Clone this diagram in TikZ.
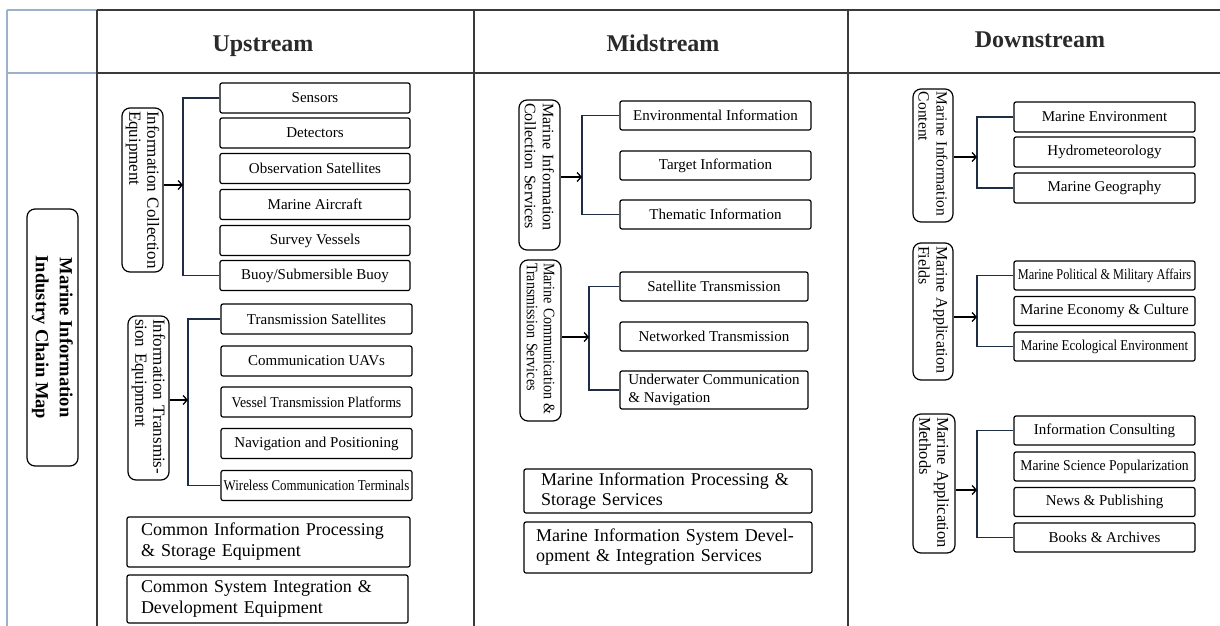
\documentclass[tikz,border=0pt]{standalone}
\usepackage{fontspec}
\setmainfont{Liberation Serif}
\usepackage{graphicx}
\usetikzlibrary{arrows.meta}
\newcommand{\condense}[2]{\scalebox{#1}[1]{#2}}
\definecolor{navy}{HTML}{1F2D44}
\definecolor{tblue}{HTML}{9DB1CB}
\definecolor{tdark}{HTML}{3A3A3A}
\definecolor{htext}{HTML}{2A2A2A}
\tikzset{
  tline/.style={line width=1.3pt, draw=tdark},
  bline/.style={line width=1.6pt, draw=tblue},
  item/.style={draw=black, line width=1.2pt, rounded corners=2pt, inner sep=0pt, align=center, font=\fontsize{15}{17}\selectfont},
  wbox/.style={draw=black, line width=1.2pt, rounded corners=2pt, inner ysep=0pt, align=left},
  grp/.style={draw=black, line width=1.2pt, rounded corners=8pt, rotate=-90, align=left, inner xsep=3pt, inner ysep=0pt},
  brk/.style={draw=navy, line width=1.6pt},
  arr/.style={draw=black, -{Straight Barb[length=4pt,width=9pt]}, line width=1.3pt},
  hdr/.style={anchor=base, text=htext, font=\fontsize{24}{28}\selectfont\bfseries}
}
\begin{document}
\begin{tikzpicture}[x=1pt,y=-1pt]
\useasboundingbox (0,0) rectangle (1220,626);
% table
\coordinate (tl) at (7,10);
\coordinate (bl) at (7,626);
\coordinate (hl) at (7,73);
\draw[bline] (tl) -- (bl);
\draw[line width=1.2pt, draw=tblue] (tl) -- (97,10);
\draw[line width=2pt, draw=tblue] (hl) -- (97,73);
\draw[tline] (97,10) -- (1220,10);
\draw[line width=2.2pt, draw=tdark] (97,73) -- (1220,73);
\draw[tline] (97,10) -- (97,626);
\draw[tline] (474,10) -- (474,626);
\draw[tline] (848,10) -- (848,626);
% headers
\node[hdr] (h1) at (263,52) {Upstream};
\node[hdr] (h2) at (663,52) {Midstream};
\node[hdr] (h3) at (1040,48) {Downstream};
% left title
\node[draw=black, line width=1.2pt, rounded corners=8pt, rotate=-90, align=center, minimum width=257pt, minimum height=51pt, inner sep=0pt, font=\fontsize{18.5}{24}\selectfont\bfseries] (title) at (52.5,337.5) {Marine Information\\Industry Chain Map};

% ---------- Upstream ----------
\node[grp, minimum width=164pt, minimum height=41pt, text width=158pt, font=\fontsize{17}{18}\selectfont] (g1) at (142.5,190) {Information Collection\\Equipment};
\node[item, minimum width=190pt, minimum height=30pt] (s1) at (315,98) {Sensors};
\node[item, minimum width=190pt, minimum height=30pt] (s2) at (315,133) {Detectors};
\node[item, minimum width=190pt, minimum height=30pt] (s3) at (315,168.5) {Observation Satellites};
\node[item, minimum width=190pt, minimum height=30pt] (s4) at (315,204.5) {Marine Aircraft};
\node[item, minimum width=190pt, minimum height=30pt] (s5) at (315,240.5) {Survey Vessels};
\node[item, minimum width=190pt, minimum height=30pt] (s6) at (315,275.5) {Buoy/Submersible Buoy};
\coordinate (a1) at (183,185);
\draw[brk] (s1.west) -- (s1.west -| a1) -- (s6.west -| a1) -- (s6.west);
\draw[arr] (g1.north |- a1) -- (a1);

\node[grp, minimum width=164pt, minimum height=41pt, text width=158pt, font=\fontsize{17}{18}\selectfont] (g2) at (148.5,398) {Information Transmis-\\sion Equipment};
\node[item, minimum width=191pt, minimum height=30pt] (t1) at (316.5,319) {Transmission Satellites};
\node[item, minimum width=191pt, minimum height=30pt] (t2) at (316.5,361) {Communication UAVs};
\node[item, minimum width=191pt, minimum height=30pt] (t3) at (316.5,402) {\condense{0.92}{Vessel Transmission Platforms}};
\node[item, minimum width=191pt, minimum height=30pt] (t4) at (316.5,443.5) {Navigation and Positioning};
\node[item, minimum width=191pt, minimum height=30pt] (t5) at (316.5,485.5) {\condense{0.86}{Wireless Communication Terminals}};
\coordinate (a2) at (188,400);
\draw[brk] (t1.west) -- (t1.west -| a2) -- (t5.west -| a2) -- (t5.west);
\draw[arr] (g2.north |- a2) -- (a2);

\node[wbox, minimum width=283pt, minimum height=50pt, inner xsep=14pt, text width=255pt, font=\fontsize{18}{21}\selectfont] (u1) at (268.5,542) {Common Information Processing\\\& Storage Equipment};
\node[wbox, minimum width=281pt, minimum height=48pt, inner xsep=14pt, text width=253pt, font=\fontsize{18}{21}\selectfont] (u2) at (267.5,599) {Common System Integration \&\\Development Equipment};

% ---------- Midstream ----------
\node[grp, minimum width=150pt, minimum height=41pt, text width=144pt, font=\fontsize{16}{18}\selectfont] (g3) at (539.5,175) {Marine Information\\Collection Services};
\node[item, minimum width=191pt, minimum height=29pt] (m1) at (715.5,115.5) {Environmental Information};
\node[item, minimum width=191pt, minimum height=29pt] (m2) at (715.5,165.5) {Target Information};
\node[item, minimum width=191pt, minimum height=29pt] (m3) at (715.5,214.5) {Thematic Information};
\coordinate (a3) at (582,177);
\draw[brk] (m1.west) -- (m1.west -| a3) -- (m3.west -| a3) -- (m3.west);
\draw[arr] (g3.north |- a3) -- (a3);

\node[grp, minimum width=161pt, minimum height=41pt, text width=155pt, font=\fontsize{16}{17}\selectfont] (g4) at (540.5,340.5) {\condense{0.88}{Marine Communication \&}\\\condense{0.88}{Transmission Services}};
\node[item, minimum width=188pt, minimum height=29pt] (n1) at (714,286.5) {Satellite Transmission};
\node[item, minimum width=188pt, minimum height=29pt] (n2) at (714,336.5) {Networked Transmission};
\node[wbox, minimum width=188pt, minimum height=38pt, inner xsep=0pt, font=\fontsize{15}{18}\selectfont] (n3) at (714,390) {Underwater Communication\\\& Navigation};
\coordinate (a4) at (589,337);
\draw[brk] (n1.west) -- (n1.west -| a4) -- (n3.west -| a4) -- (n3.west);
\draw[arr] (g4.north |- a4) -- (a4);

\node[wbox, minimum width=288pt, minimum height=44pt, inner xsep=17pt, text width=254pt, font=\fontsize{18}{20}\selectfont] (p1) at (668,491) {Marine Information Processing \&\\Storage Services};
\node[wbox, minimum width=288pt, minimum height=51pt, inner xsep=12pt, text width=264pt, font=\fontsize{18}{20}\selectfont] (p2) at (668,547.5) {Marine Information System Devel-\\opment \& Integration Services};

% ---------- Downstream ----------
\node[grp, minimum width=133pt, minimum height=40pt, text width=127pt, font=\fontsize{15.5}{18}\selectfont] (g5) at (933,155.5) {Marine Information\\Content};
\node[item, minimum width=181pt, minimum height=30pt] (d1) at (1104.5,117) {Marine Environment};
\node[item, minimum width=181pt, minimum height=30pt] (d2) at (1104.5,152) {Hydrometeorology};
\node[item, minimum width=181pt, minimum height=30pt] (d3) at (1104.5,188) {Marine Geography};
\coordinate (a5) at (977,157);
\draw[brk] (d1.west) -- (d1.west -| a5) -- (d3.west -| a5) -- (d3.west);
\draw[arr] (g5.north |- a5) -- (a5);

\node[grp, minimum width=137pt, minimum height=40pt, text width=131pt, font=\fontsize{16}{18}\selectfont] (g6) at (933,311.5) {Marine Application\\Fields};
\node[item, minimum width=181pt, minimum height=29pt] (f1) at (1104.5,275.5) {\condense{0.82}{Marine Political \& Military Affairs}};
\node[item, minimum width=181pt, minimum height=29pt] (f2) at (1104.5,311) {Marine Economy \& Culture};
\node[item, minimum width=181pt, minimum height=29pt] (f3) at (1104.5,346.5) {\condense{0.865}{Marine Ecological Environment}};
\coordinate (a6) at (977,317);
\draw[brk] (f1.west) -- (f1.west -| a6) -- (f3.west -| a6) -- (f3.west);
\draw[arr] (g6.north |- a6) -- (a6);

\node[grp, minimum width=139pt, minimum height=42pt, text width=133pt, font=\fontsize{16.5}{18}\selectfont] (g7) at (934,483.5) {Marine Application\\Methods};
\node[item, minimum width=181pt, minimum height=29pt] (k1) at (1104.5,430.5) {Information Consulting};
\node[item, minimum width=181pt, minimum height=29pt] (k2) at (1104.5,466.5) {\condense{0.91}{Marine Science Popularization}};
\node[item, minimum width=181pt, minimum height=29pt] (k3) at (1104.5,502) {News \& Publishing};
\node[item, minimum width=181pt, minimum height=29pt] (k4) at (1104.5,537.5) {Books \& Archives};
\coordinate (a7) at (977,490);
\draw[brk] (k1.west) -- (k1.west -| a7) -- (k4.west -| a7) -- (k4.west);
\draw[arr] (g7.north |- a7) -- (a7);
\end{tikzpicture}
\end{document}
